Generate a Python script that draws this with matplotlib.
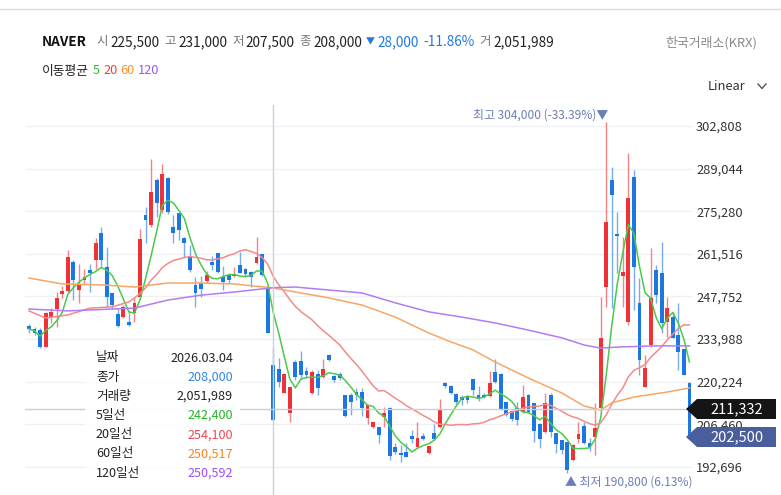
import numpy as np
import pandas as pd
import matplotlib
matplotlib.use("Agg")
import matplotlib.pyplot as plt
from matplotlib.patches import Polygon, FancyBboxPatch
from matplotlib.lines import Line2D

plt.rcParams['font.family'] = ['Noto Sans CJK KR', 'DejaVu Sans']

# === daily candles (thousand won), oldest -> newest ===
opens = [238.3, 237.3, 236.9, 231.4, 241.2, 243.7, 248.6, 249.5, 258.9, 249.9,
         253.1, 256.3, 259.5, 268.3, 257.3, 248.9, 242.1, 241.2, 239.5, 242.4,
         247.6, 274.1, 270.8, 285.4, 275.7, 286.0, 270.2, 274.7, 266.7, 260.8,
         251.5, 252.1, 252.8, 258.9, 261.8, 254.1, 254.7, 254.4, 257.9, 256.6,
         255.7, 258.6, 261.5, 250.8, 225.5, 224.3, 216.6, 210.1, 226.6, 226.9,
         223.7, 216.6, 222.7, 221.8, 228.9, 222.1, 222.7, 216.0, 216.0, 216.9,
         216.9, 208.5, 205.6, 205.6, 208.8, 211.8, 199.2, 197.2, 197.5, 202.7,
         199.2, 202.7, 197.2, 203.7, 205.6, 219.8, 218.8, 216.3, 215.3, 215.3,
         221.1, 216.0, 216.0, 215.6, 223.4, 222.7, 213.7, 210.8, 211.8, 210.5,
         216.0, 213.4, 206.6, 204.0, 216.0, 203.7, 201.4, 200.8, 195.0, 201.7,
         205.9, 200.4, 202.4, 211.8, 250.8, 285.4, 268.0, 254.4, 239.5, 286.3,
         245.7, 218.5, 232.1, 256.3, 255.4, 239.5, 241.1, 235.3, 230.8, 219.8]
highs = [238.9, 238.0, 237.6, 242.7, 244.0, 249.2, 251.2, 262.8, 259.5, 258.2,
         256.6, 258.2, 266.7, 270.2, 263.7, 248.9, 243.7, 245.0, 243.1, 247.6,
         269.6, 276.7, 292.2, 286.0, 290.5, 286.3, 274.1, 274.7, 267.0, 264.4,
         254.1, 254.4, 256.0, 260.8, 261.8, 257.6, 255.4, 257.3, 262.1, 256.9,
         256.0, 267.0, 261.5, 251.5, 231.0, 227.9, 223.1, 218.5, 227.3, 230.2,
         225.0, 224.0, 224.0, 227.6, 229.2, 222.4, 223.4, 216.0, 216.6, 218.2,
         218.2, 212.7, 207.2, 205.6, 212.1, 212.1, 200.4, 199.8, 200.4, 204.7,
         207.2, 203.7, 199.8, 206.6, 214.7, 220.2, 219.2, 216.6, 216.0, 216.0,
         221.1, 218.8, 216.6, 223.7, 227.6, 223.1, 213.7, 211.1, 213.7, 219.2,
         216.3, 213.4, 206.9, 216.6, 216.6, 203.7, 201.4, 200.8, 200.1, 207.2,
         207.2, 202.1, 213.4, 247.6, 304.0, 289.6, 275.0, 267.0, 294.1, 288.6,
         253.7, 228.9, 263.4, 257.9, 265.4, 247.6, 242.8, 245.7, 230.8, 220.2]
lows = [236.0, 235.4, 231.1, 231.4, 239.2, 237.9, 247.3, 249.2, 246.6, 245.7,
        251.5, 249.2, 256.6, 257.3, 244.4, 243.7, 237.9, 240.8, 238.2, 239.5,
        247.3, 265.0, 270.2, 273.4, 274.7, 274.4, 265.0, 266.0, 260.2, 255.7,
        244.4, 247.6, 252.1, 256.3, 255.4, 249.9, 252.1, 254.1, 255.4, 254.1,
        250.8, 258.2, 254.4, 236.0, 207.5, 218.5, 216.6, 207.2, 220.8, 221.1,
        221.8, 216.3, 216.0, 221.4, 226.9, 220.2, 220.8, 208.8, 209.5, 214.3,
        209.2, 206.6, 205.3, 200.4, 205.6, 195.0, 196.9, 194.3, 195.9, 200.4,
        199.2, 201.4, 196.9, 201.4, 205.3, 218.2, 216.3, 213.0, 212.7, 213.4,
        216.0, 214.0, 215.0, 215.3, 219.8, 211.1, 209.2, 207.5, 206.3, 210.1,
        210.1, 200.8, 198.8, 203.7, 202.4, 197.2, 196.9, 190.8, 194.6, 200.4,
        200.1, 197.9, 196.6, 211.1, 244.4, 244.1, 255.4, 244.4, 238.6, 243.4,
        222.4, 218.5, 231.5, 245.7, 236.0, 234.7, 234.4, 224.0, 222.4, 202.1]
closes = [237.3, 236.0, 231.4, 242.4, 242.7, 247.3, 249.5, 260.5, 253.1, 251.5,
          254.1, 255.4, 265.0, 259.5, 247.6, 245.0, 238.2, 244.4, 238.6, 245.7,
          266.3, 272.5, 281.5, 277.9, 287.3, 275.0, 268.3, 269.2, 265.0, 256.3,
          248.9, 250.2, 254.7, 257.9, 255.7, 252.5, 253.1, 255.0, 255.4, 255.0,
          254.1, 260.5, 254.7, 236.0, 208.0, 220.2, 222.7, 218.5, 221.8, 222.4,
          222.4, 223.4, 218.2, 224.3, 227.3, 220.8, 221.4, 209.2, 213.7, 216.0,
          211.8, 212.7, 207.2, 203.0, 210.1, 196.1, 197.5, 196.6, 195.9, 201.7,
          202.1, 201.7, 199.5, 201.7, 211.4, 218.8, 216.6, 213.7, 214.3, 214.3,
          217.6, 214.7, 215.3, 219.8, 220.2, 211.4, 209.5, 208.2, 207.9, 215.3,
          210.5, 204.3, 201.7, 213.4, 204.0, 200.1, 198.2, 191.7, 199.8, 203.3,
          200.4, 199.2, 205.3, 234.4, 271.8, 280.5, 267.3, 255.7, 279.6, 257.3,
          227.3, 224.7, 247.3, 248.2, 239.2, 244.0, 234.4, 229.8, 222.4, 202.5]

# 20-day line before enough candles exist
ma20_head_idx = [0, 3, 7, 11, 15, 18]
ma20_head = [243.1, 240.8, 241.8, 244.0, 244.4, 246.0]

# 60 / 120 day lines
ma60_idx = [0, 6, 13, 19, 25, 31, 37, 44, 48, 54, 60, 66, 72, 76, 80, 84,
            90, 96, 100, 103, 105, 109, 115, 119]
ma60 = [253.7, 251.8, 251.5, 250.8, 252.1, 252.1, 251.8, 250.5, 249.2, 247.3,
        245.0, 241.1, 236.0, 233.1, 230.5, 226.6, 221.4, 216.6, 212.4, 211.1,
        213.4, 215.3, 216.9, 218.2]
ma120_idx = [0, 7, 15, 19, 25, 31, 37, 44, 48, 60, 66, 72, 78, 84, 90, 96,
             100, 103, 107, 113, 119]
ma120 = [243.7, 243.1, 243.7, 244.0, 246.6, 248.2, 249.2, 250.6, 250.8, 248.9,
         245.7, 242.8, 241.1, 239.2, 236.9, 234.4, 232.1, 231.1, 231.5, 231.8,
         231.8]

y_ticks = [192696, 206460, 220224, 233988, 247752, 261516, 275280, 289044, 302808]

sel_idx = 44
cross_price = 211332
last_price = 202500

# === helpers ===
W, H = 781, 495
def fx(x):
    return x / W
def fy(y):
    return 1 - y / H

k = 1000
o = np.array(opens) * k
h = np.array(highs) * k
l = np.array(lows) * k
c = np.array(closes) * k
n = len(c)
idx = np.arange(n)

ma5 = pd.Series(c).rolling(5, min_periods=1).mean().values
ma20 = pd.Series(c).rolling(20).mean().values
ma20_x = list(ma20_head_idx) + list(range(19, n))
ma20_y = list(np.array(ma20_head) * k) + list(ma20[19:])

RED = "#ef3237"
BLUE = "#1c77e3"

fig = plt.figure(figsize=(7.81, 4.95), dpi=100)
ax = fig.add_axes([fx(25), 0, (692 - 25) / W, (495 - 105) / H])

px_val = 13764 / 42.625
ax.set_ylim(302808 - (495 - 126) * px_val, 302808 + (126 - 105) * px_val)
ax.set_xlim((25 - 29) / 5.55, (692 - 29) / 5.55)

for s in ax.spines.values():
    s.set_visible(False)
ax.set_xticks([])
ax.set_yticks(y_ticks)
ax.set_yticklabels([f"{v:,}" for v in y_ticks])
ax.yaxis.tick_right()
ax.tick_params(axis='y', length=0, pad=3, labelsize=9.3, labelcolor="#333333")
ax.grid(axis='y', color="#eef0f4", lw=1, zorder=0)
ax.set_axisbelow(True)

# candles
up = c >= o
cols = np.where(up, RED, BLUE)
ax.vlines(idx, l, h, colors=cols, lw=1, alpha=0.6, zorder=2)
body = np.maximum(np.abs(c - o), 500)
ax.bar(idx, body, bottom=np.minimum(o, c), width=0.7, color=cols, lw=0, zorder=3)

# moving averages
ax.plot(idx, ma5, color="#4cc84c", lw=1.1, zorder=4)
ax.plot(ma20_x, ma20_y, color="#f48a8a", lw=1.1, zorder=4)
ax.plot(ma60_idx, np.array(ma60) * k, color="#f6a764", lw=1.1, zorder=4)
ax.plot(ma120_idx, np.array(ma120) * k, color="#b27cf2", lw=1.1, zorder=4)

# crosshair
ax.axhline(cross_price, color="#c9ced8", lw=1, zorder=5)
ax.axvline(sel_idx, color="#c9d1de", lw=1, zorder=5)

# === header ===
fig.add_artist(Line2D([0, 1], [fy(9), fy(9)], color="#dddddd", lw=1))
renderer = fig.canvas.get_renderer()

def run_text(x0, y, pieces):
    # lay texts one after another, measuring each
    x = x0
    for t, col, fs, wt, gap in pieces:
        tx = fig.text(fx(x), y, t, fontsize=fs, color=col, weight=wt, va='center')
        x += tx.get_window_extent(renderer).width + gap
    return x

LAB, VAL, UPDN = "#777777", "#222222", "#1f7ae0"
run_text(42, fy(42), [
    ("NAVER", "#111111", 9.8, 'bold', 10),
    ("시", LAB, 9.0, 'normal', 2), ("225,500", VAL, 9.8, 'normal', 5),
    ("고", LAB, 9.0, 'normal', 2), ("231,000", VAL, 9.8, 'normal', 5),
    ("저", LAB, 9.0, 'normal', 2), ("207,500", VAL, 9.8, 'normal', 5),
    ("종", LAB, 9.0, 'normal', 2), ("208,000", VAL, 9.8, 'normal', 4),
    ("▼", UPDN, 6.5, 'normal', 3), ("28,000", UPDN, 9.8, 'normal', 4),
    ("-11.86%", UPDN, 9.8, 'normal', 5),
    ("거", LAB, 9.0, 'normal', 2), ("2,051,989", VAL, 9.8, 'normal', 0),
])
fig.text(fx(757), fy(43), "한국거래소(KRX)", fontsize=9.3, color="#8a8a8a",
         va='center', ha='right')

run_text(42, fy(71), [
    ("이동평균", "#222222", 9.2, 'normal', 4),
    ("5", "#2db82d", 9.2, 'normal', 3), ("20", "#f04040", 9.2, 'normal', 3),
    ("60", "#f5922a", 9.2, 'normal', 3), ("120", "#9a55f0", 9.2, 'normal', 0),
])

fig.text(fx(708), fy(86), "Linear", fontsize=9.3, color="#333333", va='center')
fig.add_artist(Line2D([fx(758), fx(762), fx(766)], [fy(84), fy(88.5), fy(84)],
                      color="#555555", lw=1))

# high / low marks
fig.text(fx(608), fy(115), "최고 304,000 (-33.39%)▼", fontsize=8.6,
         color="#6b7fb6", va='center', ha='right')
fig.text(fx(565), fy(482), "▲ 최저 190,800 (6.13%)", fontsize=8.6,
         color="#6b7fb6", va='center', ha='left')

# price tags on the right
def tag(yc, text, col):
    pts = [(686, yc), (697, yc - 10), (776, yc - 10), (776, yc + 10), (697, yc + 10)]
    poly = Polygon([(fx(a), fy(b)) for a, b in pts], closed=True,
                   transform=fig.transFigure, facecolor=col, edgecolor='none',
                   zorder=2)
    fig.add_artist(poly)
    fig.text(fx(737), fy(yc), text, fontsize=10.5, color="white", va='center',
             ha='center', zorder=3)

tag(409, f"{cross_price:,}", "#151515")
tag(437, f"{last_price:,}", "#4a5e9d")

# tooltip box
box = FancyBboxPatch((fx(85), fy(487)), (240 - 85) / W, (487 - 345) / H,
                     boxstyle="square,pad=0", transform=fig.transFigure,
                     facecolor="white", edgecolor='none', alpha=0.92, zorder=2)
fig.add_artist(box)
rows = [("날짜", "2026.03.04", "#222222"),
        ("종가", "208,000", "#2f86e6"),
        ("거래량", "2,051,989", "#222222"),
        ("5일선", "242,400", "#22b422"),
        ("20일선", "254,100", "#f04452"),
        ("60일선", "250,517", "#f5841f"),
        ("120일선", "250,592", "#9b4dff")]
for i, (lab, val, col) in enumerate(rows):
    yy = fy(358 + i * 19.2)
    fig.text(fx(96), yy, lab, fontsize=9.1, color="#222222", va='center', zorder=3)
    fig.text(fx(233), yy, val, fontsize=9.1, color=col, va='center', ha='right',
             zorder=3)

fig.savefig("out.png", dpi=100)
